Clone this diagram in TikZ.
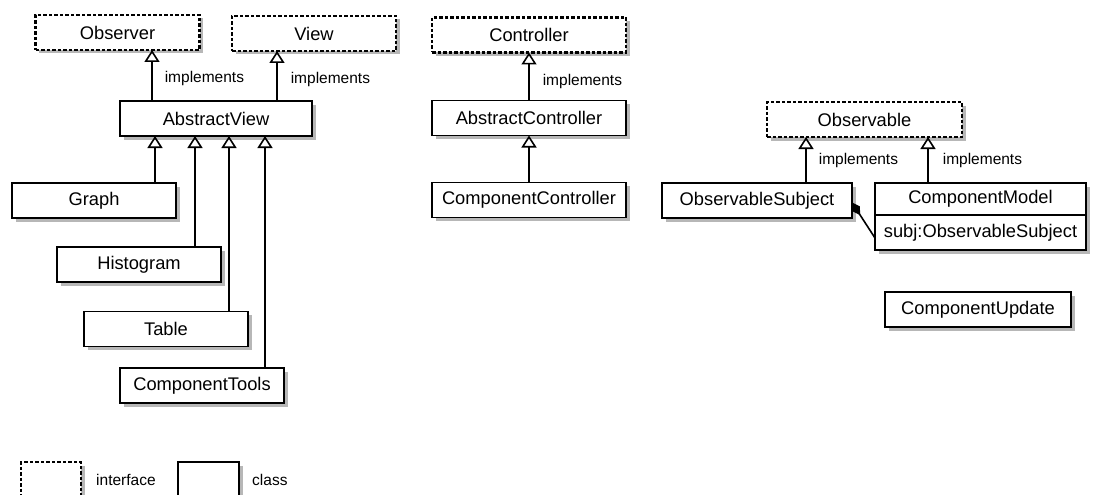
\documentclass[tikz,border=0pt]{standalone}
\usepackage{fontspec}
\setmainfont{Liberation Sans}
\usetikzlibrary{arrows.meta, positioning, shadows}

\begin{document}
\begin{tikzpicture}[
      x=1pt, y=-1pt,
      font=\fontsize{18.3}{21}\selectfont,
      cbox/.style={draw=black, line width=1.6pt, fill=white, inner sep=0pt,
      outer sep=0pt, minimum height=35pt, minimum width=164pt,
      drop shadow={shadow xshift=3.5pt, shadow yshift=-3.5pt, opacity=0.7, fill=black!40}},
      ibox/.style={cbox, line width=2.3pt, dash pattern=on 3.5pt off 2pt},
      inh/.style={-{Triangle[open, length=12pt, width=15pt, line width=1.6pt]}, line width=1.6pt},
      comp/.style={-{Diamond[length=15pt, width=9pt]}, line width=1.6pt},
      lbl/.style={font=\fontsize{15.5}{18}\selectfont, anchor=west, inner sep=0pt}
    ]
    \path[use as bounding box, clip] (0,0) rectangle (1095,495);

    % views
    \node[ibox] (obs) at (117.5,32.5) {Observer};
    \node[ibox] (view) at (314,33.5) {View};
    \node[cbox, minimum width=192pt] (av) at (216,118.5) {AbstractView};
    \node[cbox] (graph) at (94,200.5) {Graph};
    \node[cbox] (hist) at (139,264.5) {Histogram};
    \node[cbox] (table) at (166,329) {Table};
    \node[cbox] (tools) at (202,385.5) {ComponentTools};

    % controllers
    \node[ibox, minimum width=194pt] (ctrl) at (529,35) {Controller};
    \node[cbox, minimum width=194pt] (actrl) at (529,118) {AbstractController};
    \node[cbox, minimum width=194pt] (cctrl) at (529,200) {ComponentController};

    % model
    \node[ibox, minimum width=195pt] (obl) at (864.5,119.5) {Observable};
    \node[cbox, minimum width=190pt] (osub) at (757,200.5) {ObservableSubject};
    \node[cbox, minimum width=211pt, minimum height=32pt] (cmodel) at (980.5,199) {ComponentModel};
    \node[cbox, minimum width=211pt, below=0pt of cmodel] (cattr) {subj:ObservableSubject};
    \node[cbox, minimum width=186pt] (cupd) at (978,309.5) {ComponentUpdate};

    % legend
    \node[ibox, minimum width=60pt] (lint) at (51,479.5) {};
    \node[lbl, right=15pt of lint] (tint) {interface};
    \node[cbox, minimum width=61pt] (lcls) at (208.5,479.5) {};
    \node[lbl, right=13pt of lcls] (tcls) {class};

    % implements
    \coordinate (av0) at ([xshift=-64pt]av.north);
    \coordinate (av5) at ([xshift=61pt]av.north);
    \draw[inh] (av0) -- node[lbl, xshift=12pt, yshift=-3pt] {implements} (av0 |- obs.south);
    \draw[inh] (av5) -- node[lbl, xshift=13pt, yshift=-3pt] {implements} (av5 |- view.south);
    \draw[inh] (actrl) -- node[lbl, xshift=13pt, yshift=-5pt] {implements} (ctrl);
    \coordinate (os1) at ([xshift=49pt]osub.north);
    \coordinate (cm1) at ([xshift=-52.5pt]cmodel.north);
    \draw[inh] (os1) -- node[lbl, xshift=12pt] {implements} (os1 |- obl.south);
    \draw[inh] (cm1) -- node[lbl, xshift=14pt] {implements} (cm1 |- obl.south);

    % extends
    \coordinate (av1) at ([xshift=-61pt]av.south);
    \coordinate (av2) at ([xshift=-21pt]av.south);
    \coordinate (av3) at ([xshift=13pt]av.south);
    \coordinate (av4) at ([xshift=49pt]av.south);
    \draw[inh] (graph.north -| av1) -- (av1);
    \draw[inh] (hist.north -| av2) -- (av2);
    \draw[inh] (table.north -| av3) -- (av3);
    \draw[inh] (tools.north -| av4) -- (av4);
    \draw[inh] (cctrl) -- (actrl);

    % composition
    \draw[comp] ([yshift=-5.5pt]cattr.west) -- ([yshift=-2pt]osub.east);
  \end{tikzpicture}
\end{document}
